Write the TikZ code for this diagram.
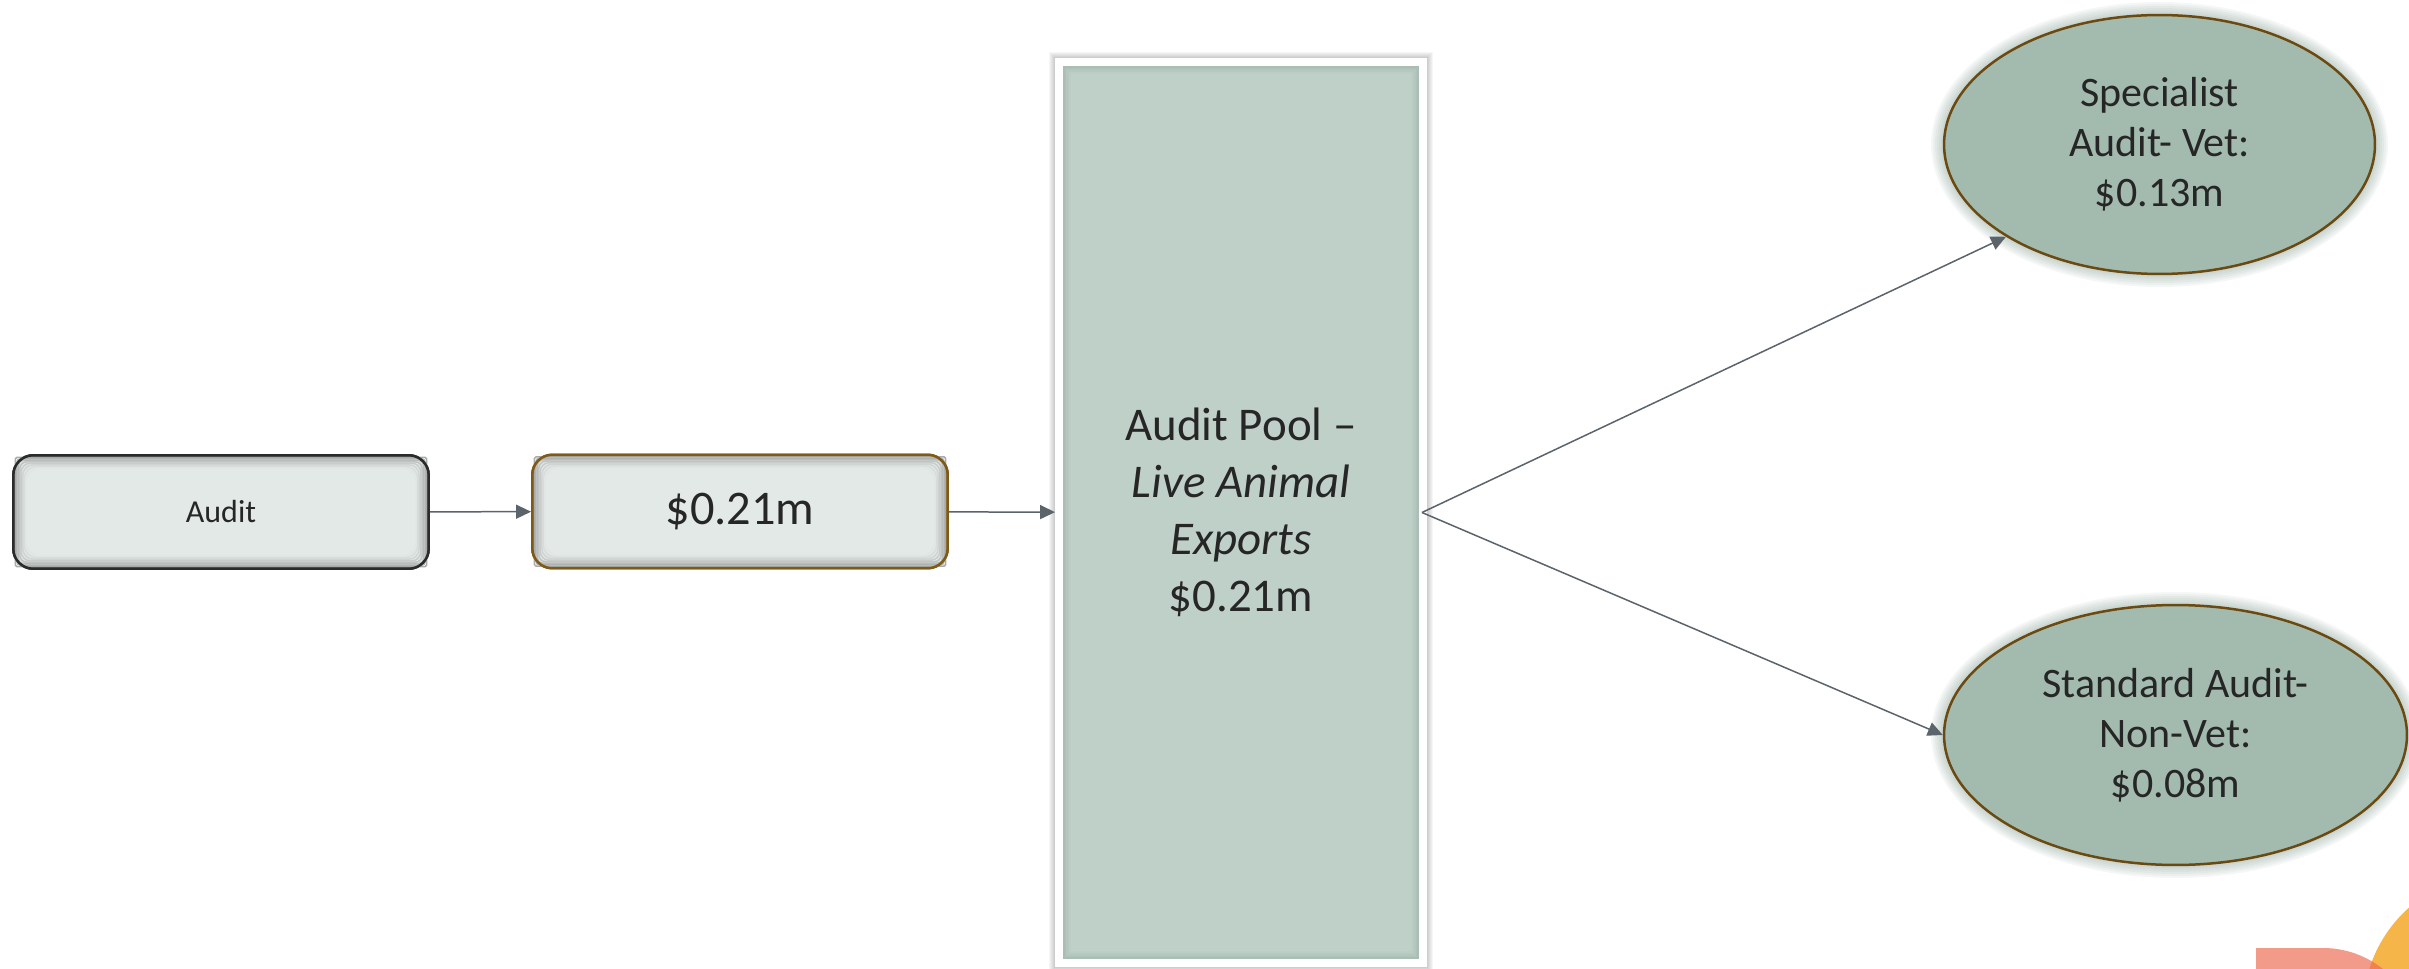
\documentclass[tikz,border=0pt]{standalone}
\usepackage{fontspec}
\setmainfont{Carlito}
\usepackage{tikz}
\usetikzlibrary{arrows.meta,calc,shapes.geometric,backgrounds}
\definecolor{inktext}{HTML}{262626}
\definecolor{boxfill}{HTML}{E3E9E7}
\definecolor{boxline}{HTML}{2B2B2B}
\definecolor{moneyline}{HTML}{7F5A14}
\definecolor{poolfill}{HTML}{BFD0C8}
\definecolor{pooledge}{HTML}{9DB2A8}
\definecolor{ovalfill}{HTML}{A3BBAF}
\definecolor{ovalline}{HTML}{6B4A12}
\definecolor{ovalglow}{HTML}{6F8C7E}
\definecolor{arrowgray}{HTML}{5B636B}
\definecolor{salmon}{HTML}{F39B8B}
\definecolor{sunorange}{HTML}{F6B548}
\definecolor{overlaporange}{HTML}{F0824F}
\newcommand{\ptsize}[2]{\fontsize{#1}{#2}\selectfont}

\begin{document}
\begin{tikzpicture}[x=0.02cm,y=-0.02cm,>={Triangle[length=0.3cm,width=0.28cm]},
  bevelbox/.style={rectangle,rounded corners=0.4cm,fill=boxfill,line width=0.05cm,
    minimum width=8.31cm,minimum height=2.27cm,text=inktext},
  bevelring/.style={rectangle,inner sep=0pt,outer sep=0pt,line width=0.03cm},
  oval/.style={ellipse,fill=ovalfill,draw=ovalline,line width=0.05cm,text=inktext,
    align=center,font=\ptsize{23.9pt}{28.5pt}},
  flow/.style={->,draw=arrowgray,line width=0.03cm}]
  \useasboundingbox (0,0) rectangle (2409,969);

  % boxes
  \node[bevelbox,draw=boxline,font=\ptsize{18.2pt}{22pt}] (audit) at (221,512) {Audit};
  \node[bevelbox,draw=moneyline,font=\ptsize{27.5pt}{33pt}] (money) at (740,511.5) {\$0.21m};
  \node[rectangle,fill=poolfill,draw=white,line width=0.16cm,minimum width=7.28cm,
    minimum height=18.02cm,align=center,text=inktext,font=\ptsize{26.7pt}{32.4pt}]
    (pool) at (1241,512.5)
    {Audit Pool –\\ \textit{Live Animal}\\ \textit{Exports}\\ \$0.21m};
  \node[oval,minimum width=8.62cm,minimum height=5.18cm] (spec) at (2159.5,144.5)
    {Specialist\\Audit- Vet:\\\$0.13m};
  \node[oval,minimum width=9.26cm,minimum height=5.2cm] (stnd) at (2175.5,735)
    {Standard Audit-\\Non-Vet:\\\$0.08m};

  % bevel edges
  \foreach \nd in {audit,money}
    \foreach \k [evaluate=\k as \rad using 0.569*(19.5-1.5*\k),
                 evaluate=\k as \ringw using 8.31-0.04*(0.5+1.5*\k),
                 evaluate=\k as \ringh using 2.27-0.04*(0.5+1.5*\k),
                 evaluate=\k as \mixval using int(33+8*\k)] in {1,...,8}
      \node[bevelring,draw=boxfill!\mixval!gray,rounded corners=\rad pt,
        minimum width=\ringw cm,minimum height=\ringh cm]
        (ring-\nd-\k) at (\nd.center) {};
  \foreach \nd/\col in {audit/boxline,money/moneyline}
    \node[bevelring,draw=\col,line width=0.05cm,rounded corners=0.4cm,
      minimum width=8.31cm,minimum height=2.27cm] (edge-\nd) at (\nd.center) {};
  \foreach \k [evaluate=\k as \mixval using int(30+12*\k)] in {1,...,6}
    \draw[poolfill!\mixval!pooledge,line width=0.03cm]
      ($(pool.north west)+(7.25+1.5*\k,7.25+1.5*\k)$) rectangle
      ($(pool.south east)+(-7.25-1.5*\k,-7.25-1.5*\k)$);

  % shadow and glow
  \begin{scope}[on background layer]
    \foreach \k in {1,...,6}
      \fill[black,opacity=0.035] ($(pool.north west)+(-\k,-\k)$) rectangle
        ($(pool.south east)+(\k,\k)$);
    \foreach \nd/\rx/\ry in {spec/216.5/130.5,stnd/232.5/131}
      \foreach \k in {1,...,6}
        \fill[ovalglow,opacity=0.07] (\nd.center)
          ellipse [x radius=\rx+2*\k,y radius=\ry+2*\k];
  \end{scope}

  % connectors
  \coordinate (fork) at ($(pool.east)+(-5,0)$);
  \draw[flow] (audit) -- (money);
  \draw[flow] (money) -- (pool);
  \draw[flow] (fork) -- (spec.211);
  \draw[flow] (fork) -- (stnd.west);

  % corner decoration
  \fill[salmon] (2256,948) rectangle (2324,975);
  \fill[salmon] (2323,1044) circle [radius=96];
  \fill[sunorange] (2500,1010) circle [radius=137];
  \begin{scope}
    \clip (2500,1010) circle [radius=137];
    \fill[overlaporange] (2256,948) rectangle (2324,975);
    \fill[overlaporange] (2323,1044) circle [radius=96];
  \end{scope}
\end{tikzpicture}
\end{document}
